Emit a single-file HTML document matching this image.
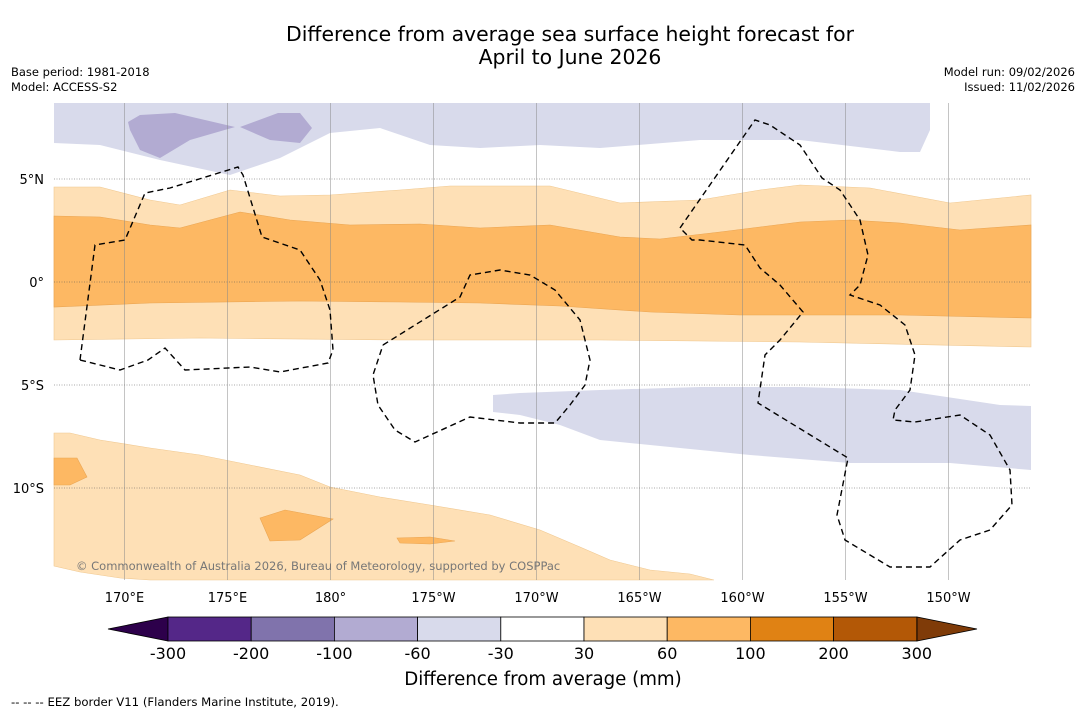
<!DOCTYPE html>
<html><head><meta charset="utf-8"><style>
body{margin:0;background:#fff;font-family:"DejaVu Sans",sans-serif;}
svg text{font-family:"DejaVu Sans",sans-serif;}
</style></head><body>
<svg id="c" width="1085" height="713" viewBox="0 0 1085 713" xmlns="http://www.w3.org/2000/svg">
<rect width="1085" height="713" fill="#fff"/>
<text x="570" y="41" font-size="20.4" text-anchor="middle">Difference from average sea surface height forecast for</text>
<text x="570" y="64" font-size="20.4" text-anchor="middle">April to June 2026</text>
<text x="11" y="76" font-size="11.5">Base period: 1981-2018</text>
<text x="11" y="91" font-size="11.5">Model: ACCESS-S2</text>
<text x="1075" y="76" font-size="11.5" text-anchor="end">Model run: 09/02/2026</text>
<text x="1075" y="91" font-size="11.5" text-anchor="end">Issued: 11/02/2026</text>
<g id="map"></g>
<g id="cb"></g>
<text x="543" y="685" font-size="18.2" text-anchor="middle">Difference from average (mm)</text>
<text x="11" y="706" font-size="11.7">--  --  -- EEZ border V11 (Flanders Marine Institute, 2019).</text>
</svg>
<script>
const latTicks=[5,0,-5,-10];
const latLabels=["5°N","0°","5°S","10°S"];
const lonTicks=[170,175,180,185,190,195,200,205,210];
const lonLabels=["170°E","175°E","180°","175°W","170°W","165°W","160°W","155°W","150°W"];
const cbLevels=[-300,-200,-100,-60,-30,30,60,100,200,300];
const cbColors=["#542788","#8073ac","#b2abd2","#d8daeb","#ffffff","#fee0b6","#fdb863","#e08214","#b35806"];
const cbLow="#2d004b", cbHigh="#7f3b08";
const bandPurpleTop=[[54,103],[930,103],[930,130],[920,152],[900,152],[800,140],[700,140],[600,148],[540,145],[480,148],[430,145],[380,128],[330,133],[280,158],[230,175],[160,160],[100,145],[54,143]];
const blobPurple1=[[128,122],[140,115],[175,113],[235,127],[190,140],[160,158],[140,150],[130,130]];
const blobPurple2=[[240,127],[278,113],[300,113],[312,128],[300,143],[270,140]];
const bandLightTopEdge=[[54,187],[100,187],[150,200],[180,205],[230,190],[280,196],[330,195],[400,190],[450,186],[550,186],[620,203],[700,200],[760,190],[800,185],[870,188],[950,203],[1031,195]];
const bandLightBotEdge=[[1031,347],[800,342],[600,340],[400,340],[200,338],[54,340]];
const bandOrangeTopEdge=[[54,216],[100,217],[150,225],[180,228],[240,212],[290,220],[350,225],[420,224],[480,228],[550,225],[620,237],[660,239],[720,232],[800,222],[850,220],[900,223],[960,230],[1031,225]];
const bandOrangeBotEdge=[[1031,318],[900,315],[800,315],[740,315],[650,312],[560,306],[480,303],[400,302],[300,301],[150,303],[54,307]];
const bandPurpleSE=[[493,395],[520,393],[600,390],[700,387],[800,387],[900,390],[1000,405],[1031,406],[1031,470],[950,463],[850,463],[750,455],[650,445],[600,440],[560,425],[520,415],[493,412]];
const bandLightSW=[[54,433],[70,433],[100,440],[150,448],[200,455],[250,465],[300,475],[330,487],[380,497],[430,505],[490,515],[540,530],[580,547],[610,560],[650,570],[690,574],[714,580],[150,580],[120,578],[80,572],[54,566]];
const blobsOrange=[[[54,458],[77,458],[87,477],[70,485],[54,485]],[[260,518],[285,510],[333,519],[300,540],[270,541]],[[397,538],[430,537],[455,541],[430,544],[400,543]]];
const eez1=[[80,360],[95,245],[125,240],[145,193],[170,188],[238,167],[243,175],[262,237],[300,250],[320,280],[330,310],[333,350],[328,363],[280,372],[250,367],[185,370],[165,348],[148,360],[120,370],[80,360]];
const eez2=[[383,345],[460,297],[470,275],[500,270],[530,275],[555,290],[580,320],[590,360],[585,385],[570,405],[555,423],[520,423],[495,420],[470,417],[415,442],[395,430],[378,405],[373,375],[383,345]];
const eez3=[[680,228],[755,120],[770,125],[800,145],[822,178],[840,190],[860,220],[868,255],[860,285],[850,295],[880,305],[905,325],[915,355],[910,390],[895,410],[893,420],[915,422],[960,415],[990,435],[1010,470],[1012,505],[990,530],[960,540],[930,567],[890,567],[845,540],[837,515],[848,458],[758,403],[765,355],[780,340],[803,312],[780,285],[760,268],[745,245],[700,240],[692,240],[680,228]];

const NS="http://www.w3.org/2000/svg";
const X0=54,X1=1031,Y0=103,Y1=580;
const xLon=l=>124+(l-170)*20.6;
const yLat=l=>282-l*20.6;
function mk(t,a,p){const e=document.createElementNS(NS,t);for(const k in a)e.setAttribute(k,a[k]);p.appendChild(e);return e;}
const pts=a=>a.map(p=>p.join(',')).join(' ');
const map=document.getElementById('map');
let e;
e=mk('polygon',{points:pts(bandPurpleTop),fill:'#d8daeb'},map);


[blobPurple1,blobPurple2].forEach(b=>{e=mk('polygon',{points:pts(b),fill:'#b2abd2'},map);

});
e=mk('polygon',{points:pts(bandLightTopEdge.concat(bandLightBotEdge)),fill:'#fee0b6',stroke:'#f0c890','stroke-width':0.6},map);


e=mk('polygon',{points:pts(bandOrangeTopEdge.concat(bandOrangeBotEdge)),fill:'#fdb863',stroke:'#eaa552','stroke-width':0.6},map);


e=mk('polygon',{points:pts(bandPurpleSE),fill:'#d8daeb'},map);


e=mk('polygon',{points:pts(bandLightSW),fill:'#fee0b6',stroke:'#f0c890','stroke-width':0.6},map);


blobsOrange.forEach(b=>{e=mk('polygon',{points:pts(b),fill:'#fdb863',stroke:'#eaa552','stroke-width':0.6},map);

});
latTicks.forEach((l,i)=>{const y=yLat(l);
e=mk('line',{x1:X0,x2:X1,y1:y,y2:y,stroke:'#555','stroke-width':0.6,'stroke-dasharray':'1,1.5'},map);


e=mk('text',{x:44,y:y+5,'font-size':13,'text-anchor':'end'},map);e.textContent=latLabels[i];

});
lonTicks.forEach((l,i)=>{const x=Math.round(xLon(l))+0.5;
e=mk('line',{x1:x,x2:x,y1:Y0,y2:Y1,stroke:'#888','stroke-width':0.5},map);


e=mk('text',{x:x,y:602,'font-size':13,'text-anchor':'middle'},map);e.textContent=lonLabels[i];

});
[eez1,eez2,eez3].forEach(b=>{e=mk('polyline',{points:pts(b),fill:'none',stroke:'#000','stroke-width':1.4,'stroke-dasharray':'6,4'},map);

});
e=mk('text',{x:76,y:570,'font-size':11.5,fill:'#777'},map);e.textContent='© Commonwealth of Australia 2026, Bureau of Meteorology, supported by COSPPac';


const cb=document.getElementById('cb');
const cbx=v=>168+cbLevels.indexOf(v)*83.2;
const cy0=617,cy1=641;
e=mk('polygon',{points:`108,629 168,${cy0} 168,${cy1}`,fill:cbLow,stroke:'#000','stroke-width':0.8},cb);


e=mk('polygon',{points:`977,629 917,${cy0} 917,${cy1}`,fill:cbHigh,stroke:'#000','stroke-width':0.8},cb);


cbColors.forEach((c,i)=>{const a=cbx(cbLevels[i]),b=cbx(cbLevels[i+1]);
e=mk('rect',{x:a,y:cy0,width:b-a,height:cy1-cy0,fill:c,stroke:'#000','stroke-width':0.8},cb);

});
cbLevels.forEach(v=>{e=mk('text',{x:cbx(v),y:659,'font-size':16,'text-anchor':'middle'},cb);e.textContent=v;

});
</script>
</body></html>
